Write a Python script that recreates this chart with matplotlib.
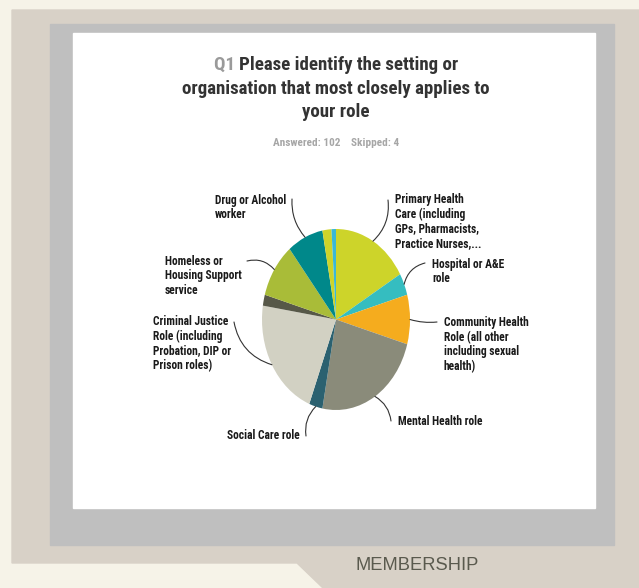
import numpy as np
import matplotlib
matplotlib.use("Agg")
import matplotlib.pyplot as plt
from matplotlib.patches import Rectangle, Polygon

plt.rcParams['font.family'] = ['Roboto Condensed', 'Archivo Narrow', 'DejaVu Sans']
plt.rcParams['font.stretch'] = 'condensed'

# survey answers (count of respondents, clockwise from 12 o'clock)
labels = ["Primary Health\nCare (including\nGPs, Pharmacists,\nPractice Nurses,...",
          "Hospital or A&E\nrole",
          "Community Health\nRole (all other\nincluding sexual\nhealth)",
          "Mental Health role",
          "Social Care role",
          "Criminal Justice\nRole (including\nProbation, DIP or\nPrison roles)",
          "",
          "Homeless or\nHousing Support\nservice",
          "Drug or Alcohol\nworker",
          "",
          ""]
counts = [17, 4, 9, 24, 3, 22, 2, 10, 8, 2, 1]
colors = ["#cdd42a", "#35bdc0", "#f5ac1e", "#8a8b7a", "#2b6170", "#d2d1c3",
          "#575848", "#a9bc38", "#00888a", "#cdd42a", "#3ab8d6"]

# label text anchor (pixels) and alignment
lab_pos = [(395, 193, 'left'), (432, 258, 'left'), (444, 316, 'left'),
           (398, 415, 'left'), (300, 429, 'right'), (153, 315, 'left'),
           None, (165, 255, 'left'), (215, 194, 'left'), None, None]
line_end = [(388, 200), (425, 263), (437, 322), (391, 421), (306, 436),
            (234, 322), None, (247, 261), (292, 199), None, None]
rads = [-0.25, 0.3, -0.1, 0.25, -0.25, 0.3, 0, -0.3, 0.2, 0, 0]

W, H = 639, 588
fig = plt.figure(figsize=(W / 100, H / 100), dpi=100)
bg = fig.add_axes([0, 0, 1, 1])
bg.set_xlim(0, W)
bg.set_ylim(H, 0)
bg.axis('off')
r = fig.canvas.get_renderer()


def fit_size(txt, target, size, **kw):
    # pick a font size so the text is about target px wide
    t = bg.text(0, 0, txt, fontsize=size, **kw)
    w = t.get_window_extent(r).width
    t.remove()
    return size * target / w


bg.add_patch(Rectangle((0, 0), W, H, color="#f6f3e8", zorder=0))
bg.add_patch(Polygon([(12, 10), (639, 10), (639, 588), (323, 588), (297, 563), (12, 563)],
                     closed=True, color="#d8d1c7", zorder=1))
bg.add_patch(Rectangle((50, 24), 564, 521, color="#bfbfbf", zorder=2))
bg.add_patch(Rectangle((73, 33), 522, 475, color="white", zorder=3))
mkw = dict(family=["Liberation Sans", "DejaVu Sans"], fontstretch='normal')
ms = fit_size("MEMBERSHIP", 123, 12, **mkw)
bg.text(417, 566, "MEMBERSHIP", fontsize=ms, color="#5a5a4e",
        ha='center', va='center', zorder=4, **mkw)

# title with grey "Q1"
ts = fit_size("organisation that most closely applies to", 310, 14, fontweight='bold')
tkw = dict(fontsize=ts, fontweight='bold', va='center', zorder=5)
t1 = bg.text(0, 65, "Q1 ", color="#9a9a9a", ha='left', **tkw)
t2 = bg.text(0, 65, "Please identify the setting or", color="#333333", ha='left', **tkw)
w1 = t1.get_window_extent(r).width
w2 = t2.get_window_extent(r).width
x0 = 336 - (w1 + w2) / 2
t1.set_x(x0)
t2.set_x(x0 + w1)
bg.text(336, 89, "organisation that most closely applies to", color="#333333",
        ha='center', **tkw)
bg.text(336, 112, "your role", color="#333333", ha='center', **tkw)
ss = fit_size("Answered: 102    Skipped: 4", 124, 7.5, fontweight='bold')
bg.text(336, 143, "Answered: 102    Skipped: 4", color="#a6a6a6", fontsize=ss,
        fontweight='bold', ha='center', va='center', zorder=5)

# pie, elliptical as in the source
cx, cy, rx, ry = 336, 319.5, 74, 90.5
ax = fig.add_axes([(cx - rx) / W, 1 - (cy + ry) / H, 2 * rx / W, 2 * ry / H])
wedges, _ = ax.pie(counts, colors=colors, startangle=90, counterclock=False,
                   radius=1, wedgeprops=dict(linewidth=0))
ax.set_aspect('auto')
ax.set_xlim(-1, 1)
ax.set_ylim(-1, 1)
ax.axis('off')

ls = fit_size("Drug or Alcohol", 72, 9, fontweight='bold')
for w, lab, pos, end, rad in zip(wedges, labels, lab_pos, line_end, rads):
    if not lab:
        continue
    mid = np.deg2rad((w.theta1 + w.theta2) / 2)
    ax.annotate("", xy=(np.cos(mid), np.sin(mid)), xycoords='data',
                xytext=end, textcoords=bg.transData,
                arrowprops=dict(arrowstyle='-', color="#333333", lw=0.8,
                                shrinkA=0, shrinkB=0,
                                connectionstyle="arc3,rad=%s" % rad))
    bg.text(pos[0], pos[1], lab, ha=pos[2], va='top', fontsize=ls,
            fontweight='bold', color="#1a1a1a", linespacing=1.15, zorder=5)

fig.savefig("out.png", dpi=100)
